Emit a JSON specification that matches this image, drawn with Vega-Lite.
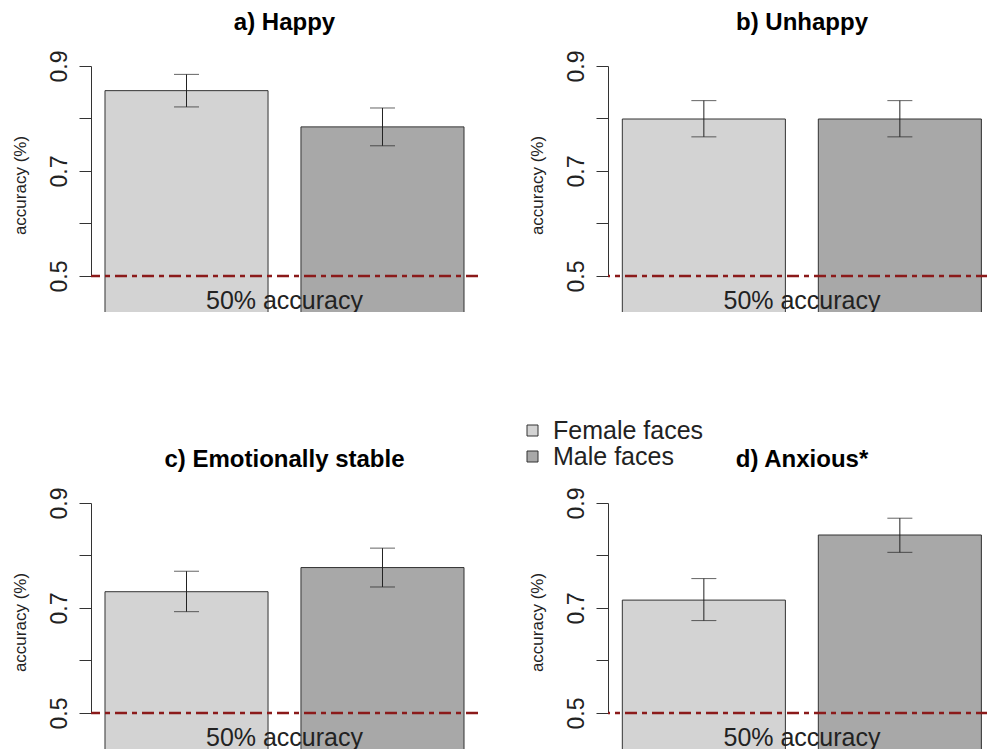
{
  "$schema": "https://vega.github.io/schema/vega-lite/v6.json",
  "background": "white",
  "padding": {"left": 11, "top": 11, "right": 0, "bottom": 0},
  "config": {"view": {"stroke": null}, "font": "Liberation Sans"},
  "data": {"values": [
    {"panel": "a", "face": "Female faces", "acc": 0.853, "lo": 0.822, "hi": 0.884},
    {"panel": "a", "face": "Male faces", "acc": 0.784, "lo": 0.748, "hi": 0.820},
    {"panel": "b", "face": "Female faces", "acc": 0.799, "lo": 0.765, "hi": 0.834},
    {"panel": "b", "face": "Male faces", "acc": 0.799, "lo": 0.765, "hi": 0.834},
    {"panel": "c", "face": "Female faces", "acc": 0.731, "lo": 0.693, "hi": 0.770},
    {"panel": "c", "face": "Male faces", "acc": 0.777, "lo": 0.740, "hi": 0.814},
    {"panel": "d", "face": "Female faces", "acc": 0.715, "lo": 0.676, "hi": 0.756},
    {"panel": "d", "face": "Male faces", "acc": 0.839, "lo": 0.806, "hi": 0.871}
  ]},
  "columns": 2,
  "bounds": "flush",
  "spacing": {"row": 183, "column": 130},
  "concat": [
    {
      "width": 387, "height": 254,
      "title": {"text": "a) Happy", "fontSize": 24, "fontWeight": "bold", "color": "#000", "anchor": "middle", "frame": "group", "baseline": "alphabetic", "offset": -4.5},
      "transform": [{"filter": "datum.panel == 'a'"}],
      "layer": [
        {"mark": {"type": "bar", "stroke": "#333", "strokeWidth": 1, "clip": true},
         "encoding": {
           "x": {"field": "face", "type": "nominal", "axis": null, "scale": {"paddingInner": 0.168, "paddingOuter": 0.0714}},
           "y": {"field": "acc", "type": "quantitative", "title": "accuracy (%)", "scale": {"domain": [0.4314, 0.9152], "zero": false, "nice": false},
                 "axis": {"values": [0.5, 0.6, 0.7, 0.8, 0.9], "format": ".1f", "labelExpr": "datum.value == 0.6 || datum.value == 0.8 ? '' : datum.label", "labelAngle": 270, "labelFontSize": 23, "labelColor": "#222", "labelPadding": 8, "labelOverlap": false, "tickSize": 12, "tickColor": "#333", "domainColor": "#333", "domainDash": [0, 36, 210, 300], "grid": false, "titleFontSize": 17, "titleFontWeight": "normal", "titleColor": "#222", "titlePadding": 19}},
           "y2": {"datum": 0},
           "color": {"field": "face", "type": "nominal", "scale": {"domain": ["Female faces", "Male faces"], "range": ["#d3d3d3", "#a8a8a8"]},
                     "legend": {"orient": "none", "legendX": 429, "legendY": 362, "title": null, "symbolType": "square", "symbolSize": 121, "symbolStrokeColor": "#555", "symbolStrokeWidth": 1, "labelFontSize": 25, "labelColor": "#222", "rowPadding": 0, "clipHeight": 21, "labelOffset": 8}}
         }},
        {"mark": {"type": "errorbar", "ticks": {"size": 25, "color": "#222"}, "rule": {"color": "#222"}},
         "encoding": {
           "x": {"field": "face", "type": "nominal"},
           "y": {"field": "lo", "type": "quantitative", "title": "accuracy (%)"},
           "y2": {"field": "hi"}
         }},
        {"data": {"values": [{}]},
         "mark": {"type": "rule", "color": "#8b1a1a", "strokeWidth": 2.5, "strokeDash": [12, 5, 5, 5]},
         "encoding": {"y": {"datum": 0.5}}},
        {"data": {"values": [{}]},
         "mark": {"type": "text", "text": "50% accuracy", "fontSize": 25, "color": "#222", "baseline": "alphabetic", "align": "center", "dy": 33, "clip": true},
         "encoding": {"y": {"datum": 0.5}}}
      ]
    },
    {
      "width": 380, "height": 254,
      "title": {"text": "b) Unhappy", "fontSize": 24, "fontWeight": "bold", "color": "#000", "anchor": "middle", "frame": "group", "baseline": "alphabetic", "offset": -4.5, "dx": 4},
      "transform": [{"filter": "datum.panel == 'b'"}],
      "layer": [
        {"mark": {"type": "bar", "stroke": "#333", "strokeWidth": 1, "clip": true},
         "encoding": {
           "x": {"field": "face", "type": "nominal", "axis": null, "scale": {"paddingInner": 0.168, "paddingOuter": 0.0534, "align": 0.684}},
           "y": {"field": "acc", "type": "quantitative", "title": "accuracy (%)", "scale": {"domain": [0.4314, 0.9152], "zero": false, "nice": false},
                 "axis": {"values": [0.5, 0.6, 0.7, 0.8, 0.9], "format": ".1f", "labelExpr": "datum.value == 0.6 || datum.value == 0.8 ? '' : datum.label", "labelAngle": 270, "labelFontSize": 23, "labelColor": "#222", "labelPadding": 8, "labelOverlap": false, "tickSize": 12, "tickColor": "#333", "domainColor": "#333", "domainDash": [0, 36, 210, 300], "grid": false, "titleFontSize": 17, "titleFontWeight": "normal", "titleColor": "#222", "titlePadding": 19}},
           "y2": {"datum": 0},
           "color": {"field": "face", "type": "nominal"}
         }},
        {"mark": {"type": "errorbar", "ticks": {"size": 25, "color": "#222"}, "rule": {"color": "#222"}},
         "encoding": {
           "x": {"field": "face", "type": "nominal"},
           "y": {"field": "lo", "type": "quantitative", "title": "accuracy (%)"},
           "y2": {"field": "hi"}
         }},
        {"data": {"values": [{}]},
         "mark": {"type": "rule", "color": "#8b1a1a", "strokeWidth": 2.5, "strokeDash": [12, 5, 5, 5]},
         "encoding": {"y": {"datum": 0.5}}},
        {"data": {"values": [{}]},
         "mark": {"type": "text", "text": "50% accuracy", "fontSize": 25, "color": "#222", "baseline": "alphabetic", "align": "center", "dy": 33, "dx": 4, "clip": true},
         "encoding": {"y": {"datum": 0.5}}}
      ]
    },
    {
      "width": 387, "height": 254,
      "title": {"text": "c) Emotionally stable", "fontSize": 24, "fontWeight": "bold", "color": "#000", "anchor": "middle", "frame": "group", "baseline": "alphabetic", "offset": -4.5},
      "transform": [{"filter": "datum.panel == 'c'"}],
      "layer": [
        {"mark": {"type": "bar", "stroke": "#333", "strokeWidth": 1, "clip": true},
         "encoding": {
           "x": {"field": "face", "type": "nominal", "axis": null, "scale": {"paddingInner": 0.168, "paddingOuter": 0.0714}},
           "y": {"field": "acc", "type": "quantitative", "title": "accuracy (%)", "scale": {"domain": [0.4314, 0.9152], "zero": false, "nice": false},
                 "axis": {"values": [0.5, 0.6, 0.7, 0.8, 0.9], "format": ".1f", "labelExpr": "datum.value == 0.6 || datum.value == 0.8 ? '' : datum.label", "labelAngle": 270, "labelFontSize": 23, "labelColor": "#222", "labelPadding": 8, "labelOverlap": false, "tickSize": 12, "tickColor": "#333", "domainColor": "#333", "domainDash": [0, 36, 210, 300], "grid": false, "titleFontSize": 17, "titleFontWeight": "normal", "titleColor": "#222", "titlePadding": 19}},
           "y2": {"datum": 0},
           "color": {"field": "face", "type": "nominal"}
         }},
        {"mark": {"type": "errorbar", "ticks": {"size": 25, "color": "#222"}, "rule": {"color": "#222"}},
         "encoding": {
           "x": {"field": "face", "type": "nominal"},
           "y": {"field": "lo", "type": "quantitative", "title": "accuracy (%)"},
           "y2": {"field": "hi"}
         }},
        {"data": {"values": [{}]},
         "mark": {"type": "rule", "color": "#8b1a1a", "strokeWidth": 2.5, "strokeDash": [12, 5, 5, 5]},
         "encoding": {"y": {"datum": 0.5}}},
        {"data": {"values": [{}]},
         "mark": {"type": "text", "text": "50% accuracy", "fontSize": 25, "color": "#222", "baseline": "alphabetic", "align": "center", "dy": 33, "clip": true},
         "encoding": {"y": {"datum": 0.5}}}
      ]
    },
    {
      "width": 380, "height": 254,
      "title": {"text": "d) Anxious*", "fontSize": 24, "fontWeight": "bold", "color": "#000", "anchor": "middle", "frame": "group", "baseline": "alphabetic", "offset": -4.5, "dx": 4},
      "transform": [{"filter": "datum.panel == 'd'"}],
      "layer": [
        {"mark": {"type": "bar", "stroke": "#333", "strokeWidth": 1, "clip": true},
         "encoding": {
           "x": {"field": "face", "type": "nominal", "axis": null, "scale": {"paddingInner": 0.168, "paddingOuter": 0.0534, "align": 0.684}},
           "y": {"field": "acc", "type": "quantitative", "title": "accuracy (%)", "scale": {"domain": [0.4314, 0.9152], "zero": false, "nice": false},
                 "axis": {"values": [0.5, 0.6, 0.7, 0.8, 0.9], "format": ".1f", "labelExpr": "datum.value == 0.6 || datum.value == 0.8 ? '' : datum.label", "labelAngle": 270, "labelFontSize": 23, "labelColor": "#222", "labelPadding": 8, "labelOverlap": false, "tickSize": 12, "tickColor": "#333", "domainColor": "#333", "domainDash": [0, 36, 210, 300], "grid": false, "titleFontSize": 17, "titleFontWeight": "normal", "titleColor": "#222", "titlePadding": 19}},
           "y2": {"datum": 0},
           "color": {"field": "face", "type": "nominal"}
         }},
        {"mark": {"type": "errorbar", "ticks": {"size": 25, "color": "#222"}, "rule": {"color": "#222"}},
         "encoding": {
           "x": {"field": "face", "type": "nominal"},
           "y": {"field": "lo", "type": "quantitative", "title": "accuracy (%)"},
           "y2": {"field": "hi"}
         }},
        {"data": {"values": [{}]},
         "mark": {"type": "rule", "color": "#8b1a1a", "strokeWidth": 2.5, "strokeDash": [12, 5, 5, 5]},
         "encoding": {"y": {"datum": 0.5}}},
        {"data": {"values": [{}]},
         "mark": {"type": "text", "text": "50% accuracy", "fontSize": 25, "color": "#222", "baseline": "alphabetic", "align": "center", "dy": 33, "dx": 4, "clip": true},
         "encoding": {"y": {"datum": 0.5}}}
      ]
    }
  ]
}
